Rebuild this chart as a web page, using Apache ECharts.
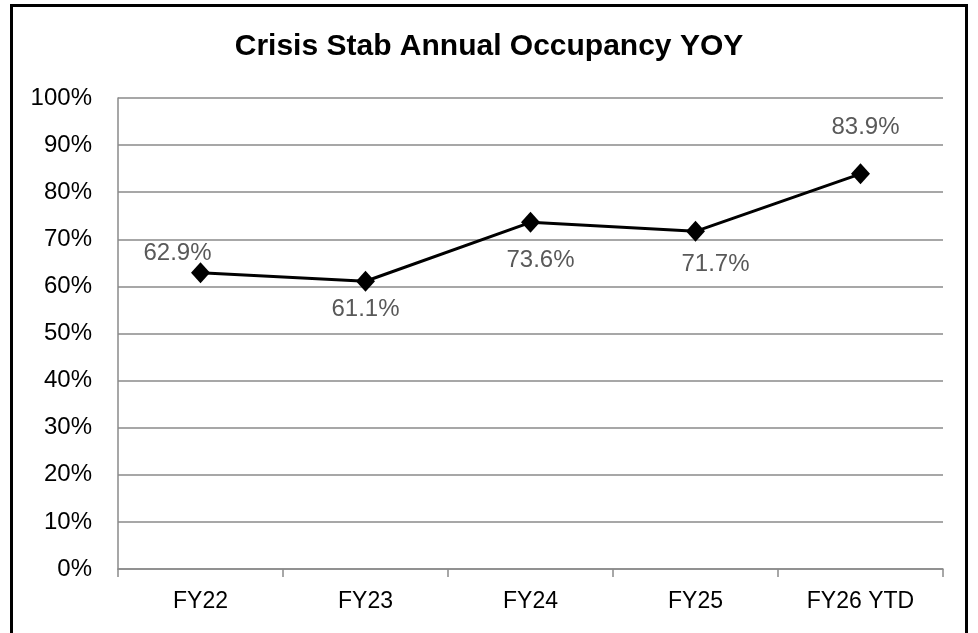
<!DOCTYPE html>
<html lang="en">

<head>
    <meta charset="utf-8">
    <title>Crisis Stab Annual Occupancy YOY</title>
    <style>
        html, body {
            margin: 0;
            padding: 0;
            background-color: #fff;
        }
    </style>
</head>

<body>
    <div id="main" style="width: 978px;height:633px;"></div>
    <script src="https://cdn.jsdelivr.net/npm/echarts@6/dist/echarts.min.js"></script>

    <script>
        var categories = ['FY22', 'FY23', 'FY24', 'FY25', 'FY26 YTD'];
        var occupancy = [0.629, 0.611, 0.736, 0.717, 0.839];
        var yTicks = [0, 0.1, 0.2, 0.3, 0.4, 0.5, 0.6, 0.7, 0.8, 0.9, 1];

        // label nudges (px) relative to each marker, like the hand-placed excel labels
        var labelOffsets = [[-23, -19], [0, 28], [10, 38], [20, 33], [5, -46]];

        var myChart = echarts.init(document.getElementById('main'));
        var font = 'Liberation Sans, Arial, sans-serif';

        var seriesData = occupancy.map(function (v, i) {
            return {
                value: v,
                label: {
                    offset: labelOffsets[i]
                }
            };
        });

        var option = {
            backgroundColor: '#fff',
            animation: false,
            title: {
                text: 'Crisis Stab Annual Occupancy YOY',
                left: 'center',
                top: 27,
                textStyle: {
                    fontFamily: font,
                    fontSize: 30,
                    fontWeight: 'bold',
                    color: '#000'
                }
            },
            graphic: [{
                type: 'rect',
                shape: { x: 11.5, y: 5.5, width: 955, height: 700 },
                style: { fill: 'none', stroke: '#000', lineWidth: 3 },
                silent: true
            }],
            grid: {
                left: 118,
                right: 35,
                top: 98,
                bottom: 64
            },
            xAxis: {
                type: 'category',
                data: categories,
                boundaryGap: true,
                axisLine: {
                    lineStyle: { color: '#8a8a8a', width: 1.5 }
                },
                axisTick: {
                    show: true,
                    length: 8,
                    lineStyle: { color: '#8a8a8a', width: 1.5 }
                },
                axisLabel: {
                    margin: 21,
                    color: '#000',
                    fontFamily: font,
                    fontSize: 23
                }
            },
            yAxis: {
                type: 'value',
                min: yTicks[0],
                max: yTicks[yTicks.length - 1],
                interval: 0.1,
                axisLine: {
                    show: true,
                    lineStyle: { color: '#8a8a8a', width: 1.5 }
                },
                axisTick: { show: false },
                splitLine: {
                    lineStyle: { color: '#8a8a8a', width: 1.5 }
                },
                axisLabel: {
                    margin: 26,
                    color: '#000',
                    fontFamily: font,
                    fontSize: 24,
                    formatter: function (v) {
                        return Math.round(v * 100) + '%';
                    }
                }
            },
            series: [{
                name: 'Occupancy',
                type: 'line',
                data: seriesData,
                symbol: 'diamond',
                symbolSize: [19, 21],
                lineStyle: { color: '#000', width: 3 },
                itemStyle: { color: '#000' },
                label: {
                    show: true,
                    position: 'inside',
                    color: '#595959',
                    fontFamily: font,
                    fontSize: 24,
                    formatter: function (p) {
                        return (p.value * 100).toFixed(1) + '%';
                    }
                }
            }]
        };

        myChart.setOption(option);
    </script>


</body>

</html>
